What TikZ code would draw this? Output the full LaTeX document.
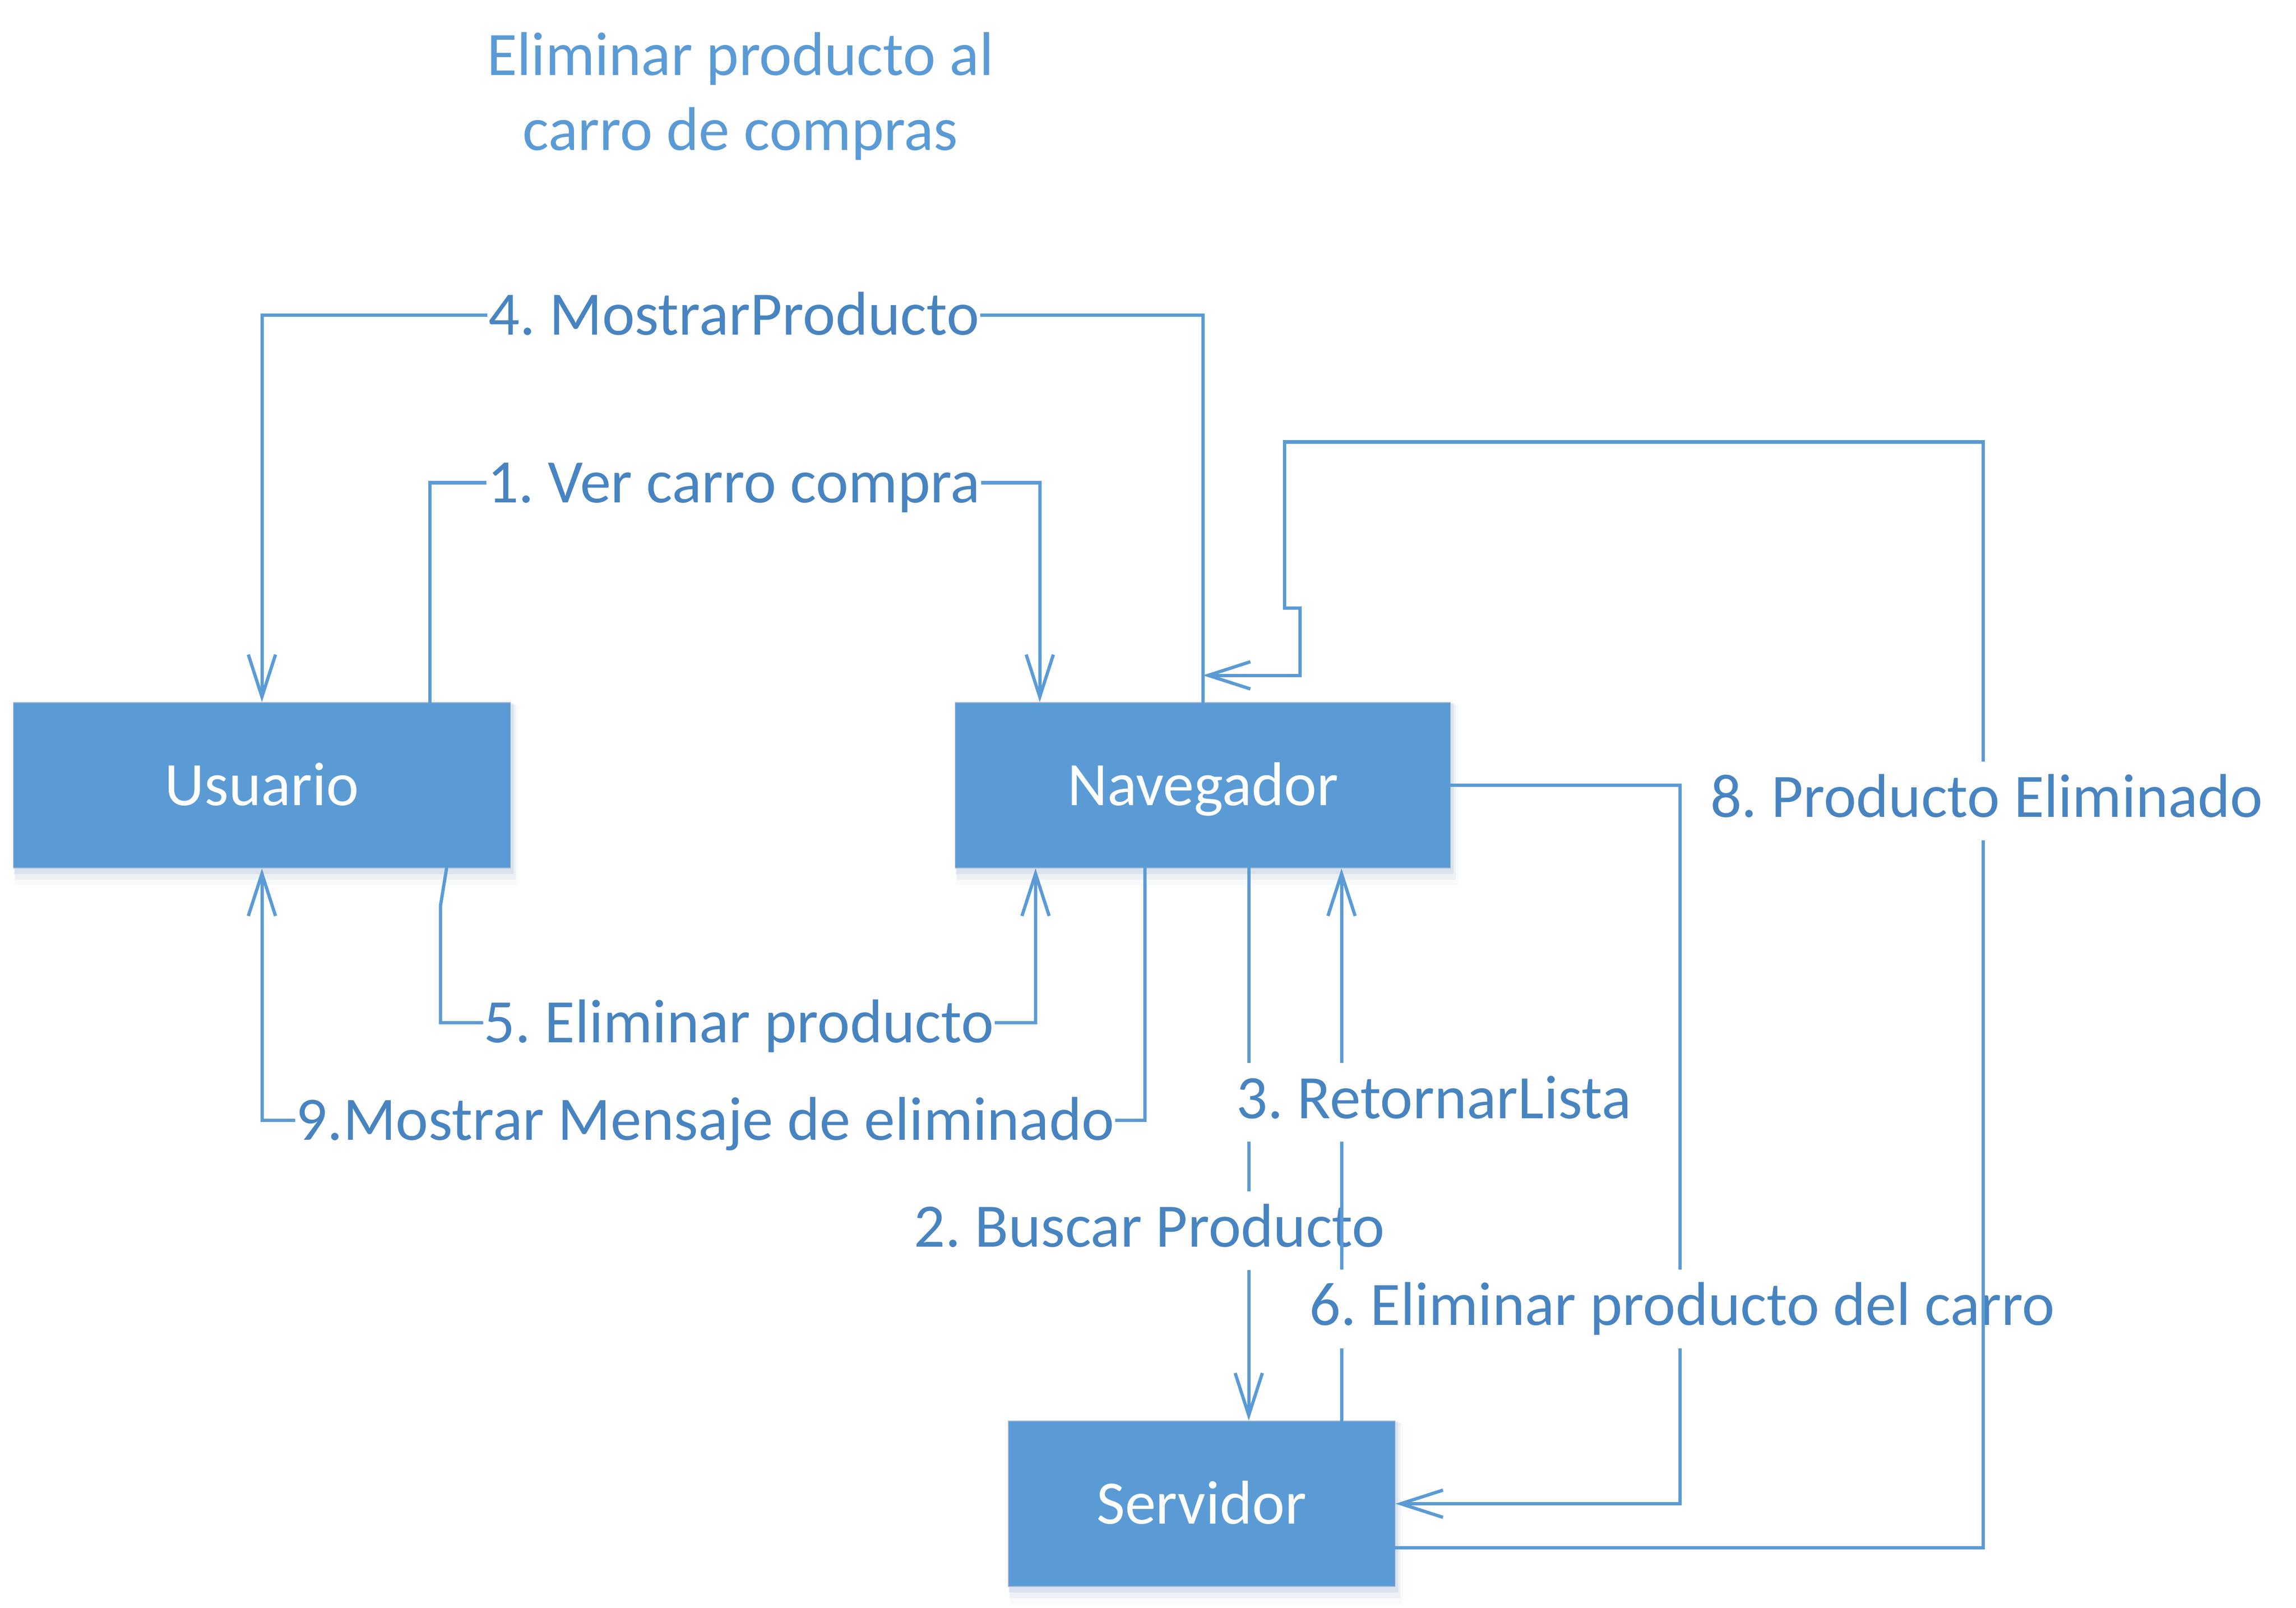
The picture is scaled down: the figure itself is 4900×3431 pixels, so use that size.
\documentclass[tikz,border=0pt]{standalone}
\usepackage{fontspec}
\setmainfont{Carlito}
\frenchspacing
\usetikzlibrary{arrows.meta,backgrounds}
\definecolor{boxblue}{RGB}{91,155,213}
\definecolor{lineblue}{RGB}{91,155,213}
\definecolor{labelblue}{RGB}{72,132,192}
\definecolor{titleblue}{RGB}{91,155,213}
\definecolor{boxedge}{RGB}{165,185,210}
\definecolor{shadowc}{RGB}{150,175,205}
\begin{document}
\begin{tikzpicture}[x=0.01cm,y=-0.01cm,
  box/.style={rectangle, fill=boxblue, draw=boxedge, line width=0.015cm, text=white,
    font=\fontsize{37.5pt}{45pt}\selectfont, inner sep=0pt, text height=1.0cm, text depth=0.15cm},
  conn/.style={draw=lineblue, line width=0.07cm, line join=miter, line cap=round},
  arr/.style={-{Straight Barb[length=0.9cm,width=0.58cm]}},
  lbl/.style={fill=white, text=labelblue, font=\fontsize{37.5pt}{45pt}\selectfont,
    inner xsep=0.02cm, inner ysep=0pt, text height=1.18cm, text depth=0.5cm, anchor=base},
  ttl/.style={text=titleblue, font=\fontsize{37.5pt}{45pt}\selectfont, inner sep=0pt, anchor=base}
]
\useasboundingbox (0,0) rectangle (4900,3431);

% title
\node[ttl] (title1) at (1580,161) {Eliminar producto al};
\node[ttl] (title2) at (1580,321) {carro de compras};

% boxes
\node[box, minimum width=10.6cm, minimum height=3.53cm] (usuario) at (559,1675.5) {Usuario};
\node[box, minimum width=10.56cm, minimum height=3.53cm] (nav) at (2567,1675.5) {Navegador};
\node[box, minimum width=8.25cm, minimum height=3.53cm] (serv) at (2564.5,3208.5) {Servidor};

\begin{scope}[on background layer]
\foreach \n in {usuario,nav,serv}{
  \fill[shadowc, opacity=0.22] ([shift={(0.02cm,-0.12cm)}]\n.south west) rectangle ([shift={(0.06cm,-0.02cm)}]\n.north east);
  \fill[shadowc, opacity=0.12] ([shift={(0.03cm,-0.24cm)}]\n.south west) rectangle ([shift={(0.11cm,-0.04cm)}]\n.north east);
  \fill[shadowc, opacity=0.06] ([shift={(0.04cm,-0.36cm)}]\n.south west) rectangle ([shift={(0.16cm,-0.06cm)}]\n.north east);
}
\end{scope}

% 4. MostrarProducto
\draw[conn,arr] (nav.north) -- (nav.north |- 0,673) -- (usuario.north |- 0,673) -- (usuario.north);
\node[lbl] (l4) at (1566,715) {4. MostrarProducto};

% 1. Ver carro compra
\draw[conn,arr] (917,0 |- usuario.north) -- (917,1030) -- (2219,1030) -- (2219,0 |- nav.north);
\node[lbl] (l1) at (1566,1072) {1. Ver carro compra};

% 5. Eliminar producto
\draw[conn,arr] (953,0 |- usuario.south) -- (940,1933) -- (940,2182) -- (2210,2182) -- (2210,0 |- nav.south);
\node[lbl] (l5) at (1577,2224) {5. Eliminar producto};

% 9.Mostrar Mensaje de eliminado
\draw[conn,arr] (2443,0 |- nav.south) -- (2443,2390) -- (usuario.south |- 0,2390) -- (usuario.south);
\node[lbl] (l9) at (1505,2432) {9.Mostrar Mensaje de eliminado};

% 2. Buscar Producto
\draw[conn,arr] (2665,0 |- nav.south) -- (2665,0 |- serv.north);
\node[lbl] (l2) at (2453,2660) {2. Buscar Producto};

% 3. RetornarLista
\draw[conn,arr] (2863,0 |- serv.north) -- (2863,0 |- nav.south);
\node[lbl] (l3) at (3060,2386) {3. RetornarLista};

% 6. Eliminar producto del carro
\draw[conn,arr] (nav.east) -- (nav.east -| 3585,0) -- (serv.east -| 3585,0) -- (serv.east);
\node[lbl] (l6) at (3590,2827) {6. Eliminar producto del carro};

% 8. Producto Eliminado
\draw[conn,arr] (serv.east |- 0,3302) -- (4232,3302) -- (4232,943) -- (2741,943) -- (2741,1297)
  -- (2774,1297) -- (2774,1441) -- (nav.north |- 0,1441);
\node[lbl] (l8) at (4240,1743) {8. Producto Eliminado};
\end{tikzpicture}
\end{document}
